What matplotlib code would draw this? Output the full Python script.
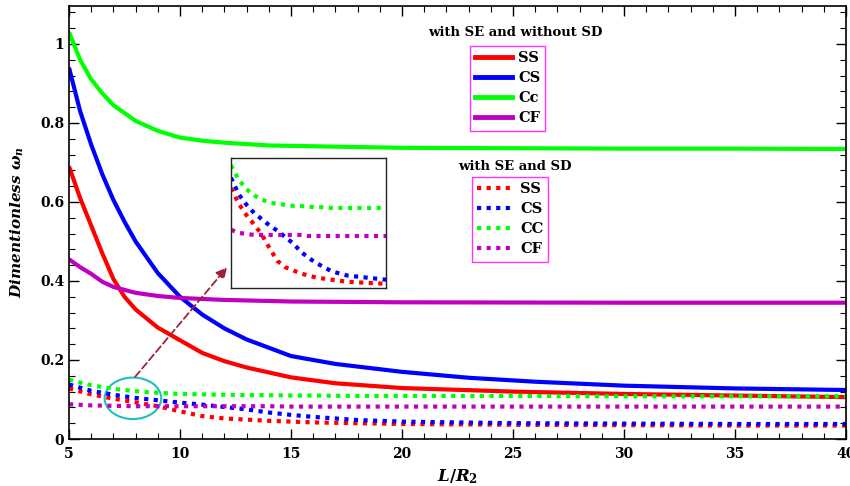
import matplotlib
matplotlib.use("Agg")
import matplotlib.pyplot as plt
from matplotlib.lines import Line2D
from matplotlib.patches import Ellipse

# ---- data ----
x_ss = [5, 5.5, 6, 6.5, 7, 7.5, 8, 9, 10, 11, 12, 13, 15, 17, 20, 25, 30, 35, 40]
ss_solid = [0.69, 0.61, 0.54, 0.47, 0.405, 0.36, 0.328, 0.282, 0.25, 0.218, 0.197, 0.181, 0.156, 0.141, 0.129, 0.12, 0.114, 0.11, 0.106]

x_cs = [5, 5.5, 6, 6.5, 7, 7.5, 8, 9, 10, 11, 12, 13, 15, 17, 20, 23, 26, 30, 35, 40]
cs_solid = [0.94, 0.83, 0.745, 0.67, 0.605, 0.55, 0.50, 0.42, 0.36, 0.315, 0.28, 0.252, 0.21, 0.19, 0.17, 0.155, 0.145, 0.135, 0.128, 0.124]

x_cc = [5, 5.5, 6, 6.5, 7, 7.5, 8, 9, 10, 11, 12, 14, 17, 20, 25, 30, 35, 40]
cc_solid = [1.03, 0.96, 0.91, 0.875, 0.845, 0.825, 0.805, 0.78, 0.763, 0.755, 0.75, 0.743, 0.74, 0.737, 0.736, 0.735, 0.735, 0.734]

x_cf = [5, 5.5, 6, 6.5, 7, 8, 9, 10, 12, 15, 20, 30, 40]
cf_solid = [0.455, 0.435, 0.418, 0.398, 0.385, 0.37, 0.362, 0.357, 0.352, 0.348, 0.346, 0.345, 0.345]

x_d = [5, 6, 7, 8, 9, 10, 11, 12, 13, 14, 15, 16, 18, 20, 25, 30, 35, 40]
ss_dot = [0.128, 0.113, 0.102, 0.093, 0.083, 0.070, 0.058, 0.052, 0.049, 0.046, 0.044, 0.042, 0.040, 0.038, 0.036, 0.035, 0.034, 0.034]
cs_dot = [0.138, 0.122, 0.112, 0.104, 0.098, 0.092, 0.087, 0.081, 0.075, 0.067, 0.061, 0.056, 0.048, 0.044, 0.040, 0.039, 0.038, 0.038]
cc_dot = [0.150, 0.136, 0.127, 0.121, 0.117, 0.114, 0.113, 0.112, 0.111, 0.111, 0.110, 0.110, 0.109, 0.109, 0.109, 0.108, 0.108, 0.108]
cf_dot = [0.088, 0.085, 0.084, 0.083, 0.083, 0.083, 0.083, 0.083, 0.083, 0.083, 0.082, 0.082, 0.082, 0.082, 0.082, 0.082, 0.082, 0.082]

labels_solid = ["SS", "CS", "Cc", "CF"]
labels_dot = ["SS", "CS", "CC", "CF"]
title_solid = "with SE and without SD"
title_dot = "with SE and SD"
x_ticks = [5, 10, 15, 20, 25, 30, 35, 40]
y_ticks = [0, 0.2, 0.4, 0.6, 0.8, 1]
y_tick_labels = ["0", "0.2", "0.4", "0.6", "0.8", "1"]

colors = ["#FF0000", "#0000FF", "#00FF00", "#C000C0"]
DOT = (0, (1, 1.3))

plt.rcParams["font.family"] = ["DejaVu Serif"]
plt.rcParams["mathtext.fontset"] = "custom"
plt.rcParams["mathtext.it"] = "DejaVu Serif:italic:bold"
plt.rcParams["mathtext.rm"] = "DejaVu Serif:bold"
plt.rcParams["mathtext.bf"] = "DejaVu Serif:italic:bold"

fig = plt.figure(figsize=(8.5, 4.86), dpi=100)
ax = fig.add_axes([69/850, 47/486, (846-69)/850, (439-6)/486])

solid = [(x_ss, ss_solid), (x_cs, cs_solid), (x_cc, cc_solid), (x_cf, cf_solid)]
dotted = [ss_dot, cs_dot, cc_dot, cf_dot]
for (xs, ys), c in zip(solid, colors):
    ax.plot(xs, ys, color=c, lw=3, solid_capstyle="butt")
for ys, c in zip(dotted, colors):
    ax.plot(x_d, ys, color=c, lw=3, linestyle=DOT, dash_capstyle="butt")

ax.set_xlim(5, 40)
ax.set_ylim(0, 1.096)
ax.set_xticks(x_ticks)
ax.set_yticks(y_ticks)
ax.set_yticklabels(y_tick_labels)
ax.set_xticks(range(5, 41), minor=True)
ax.set_yticks([i * 0.04 for i in range(28)], minor=True)
ax.tick_params(which="both", direction="in", top=True, right=True, labelsize=10)
ax.tick_params(which="major", length=7, width=1)
ax.tick_params(which="minor", length=4, width=0.8)
for lab in ax.get_xticklabels() + ax.get_yticklabels():
    lab.set_fontweight("bold")
ax.tick_params(axis="x", pad=6)
for s in ax.spines.values():
    s.set_linewidth(1.2)

ax.set_xlabel("$L/R_2$", fontsize=12, labelpad=4)
ax.set_ylabel("Dimentionless $\\omega_n$", fontsize=11, fontweight="bold", style="italic", labelpad=10)

# ellipse + arrow
ax.add_patch(Ellipse((7.88, 0.103), 2.55, 0.105, fill=False, edgecolor="#1FBFBF", lw=1.5))
ax.annotate("", xy=(12.2, 0.44), xytext=(7.9, 0.152),
            arrowprops=dict(arrowstyle="-|>", linestyle=(0, (4, 2)), color="#A0203A",
                            lw=1.3, mutation_scale=16))

# inset
axin = fig.add_axes([231/850, 1 - 288/486, (386-231)/850, (288-158)/486])
for ys, c in zip(dotted, colors):
    axin.plot(x_d, ys, color=c, lw=3, linestyle=DOT, dash_capstyle="butt")
axin.set_xlim(5, 25)
axin.set_ylim(0.032, 0.157)
axin.set_xticks([])
axin.set_yticks([])
for s in axin.spines.values():
    s.set_linewidth(1.0)
    s.set_color("#222222")

# legends
h1 = [Line2D([], [], color=c, lw=3.5) for c in colors]
h2 = [Line2D([], [], color=c, lw=3, linestyle=DOT, dash_capstyle="butt") for c in colors]
common = dict(frameon=True, fancybox=False, edgecolor="#FF00FF", handlelength=2.5,
              handletextpad=0.45, labelspacing=0.42, borderpad=0.35, borderaxespad=0,
              prop=dict(family="DejaVu Serif", weight="bold", size=10.5))
leg1 = fig.legend(h1, labels_solid, loc="upper left",
                  bbox_to_anchor=(470/850, 1 - 46/486), **common)
leg1.get_frame().set_linewidth(1.0)
leg2 = fig.legend(h2, labels_dot, loc="upper left",
                  bbox_to_anchor=(472/850, 1 - 177/486), **common)
leg2.get_frame().set_linewidth(1.0)
fig.text(515/850, 1 - 32/486, title_solid, ha="center", va="center",
         fontsize=9.5, fontweight="bold")
fig.text(515/850, 1 - 166/486, title_dot, ha="center", va="center",
         fontsize=9.5, fontweight="bold")

fig.savefig("out.png", dpi=100)
